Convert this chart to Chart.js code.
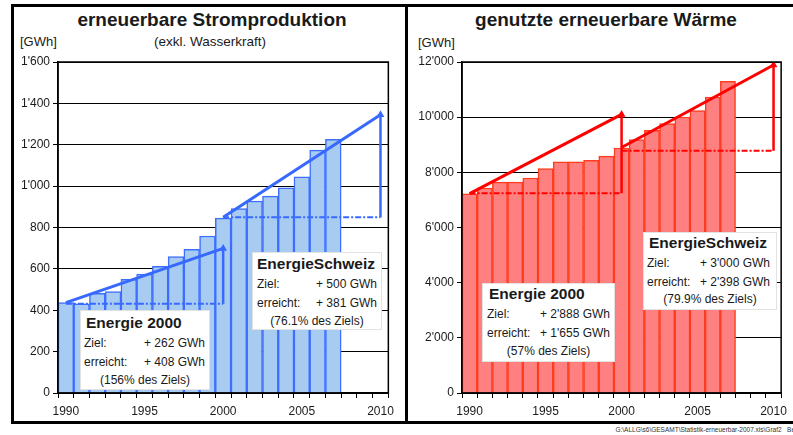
<!DOCTYPE html>
<html>
<head>
<meta charset="utf-8">
<script src="https://cdn.jsdelivr.net/npm/chart.js@4.4.0/dist/chart.umd.min.js"></script>
<style>
  html, body { margin:0; padding:0; background:#fff; }
  body { width:793px; height:435px; position:relative; overflow:hidden; font-family:"Liberation Sans", Arial, sans-serif; color:#1a1a1a; }
  .abs { position:absolute; }
  #frame { left:11px; top:4px; width:800px; height:420px; border:3px solid #000; box-sizing:border-box; }
  #divider { left:405px; top:4px; width:3px; height:420px; background:#000; }
  .title { font-weight:bold; font-size:19px; white-space:nowrap; transform:translateX(-50%); line-height:22px; }
  .sub { font-size:13.5px; white-space:nowrap; transform:translateX(-50%); line-height:16px; }
  .unit { font-size:13px; line-height:16px; white-space:nowrap; }
  canvas { position:absolute; }
  .box { position:absolute; background:#fff; border:1px solid #e2e2e2; box-sizing:border-box; }
  .box div { position:absolute; white-space:nowrap; }
  .bt { font-weight:bold; font-size:15.5px; line-height:18px; }
  .row { font-size:12px; line-height:14px; }
  .val { text-align:right; }
  .cen { left:0; right:0; text-align:center; }
  #footer { right:-2px; top:425px; font-size:6.5px; line-height:9px; white-space:nowrap; color:#333; }
</style>
</head>
<body>
<div id="frame" class="abs"></div>
<div id="divider" class="abs"></div>

<div class="abs title" style="left:212px; top:9px;">erneuerbare Stromproduktion</div>
<div class="abs sub" style="left:210px; top:34px;">(exkl. Wasserkraft)</div>
<div class="abs unit" style="left:20px; top:34px;">[GWh]</div>

<div class="abs title" style="left:606px; top:9px;">genutzte erneuerbare Wärme</div>
<div class="abs unit" style="left:418px; top:35px;">[GWh]</div>

<canvas id="c1" width="386" height="372" style="left:14px; top:48px; width:386px; height:372px;"></canvas>
<canvas id="c2" width="383" height="372" style="left:410px; top:48px; width:383px; height:372px;"></canvas>

<div class="box" style="left:80px; top:310px; width:130px; height:80px;">
  <div class="bt" style="left:5px; top:3px;">Energie 2000</div>
  <div class="row" style="left:3px; top:25px;">Ziel:</div>
  <div class="row val" style="right:4px; top:25px;">+ 262 GWh</div>
  <div class="row" style="left:3px; top:44px;">erreicht:</div>
  <div class="row val" style="right:4px; top:44px;">+ 408 GWh</div>
  <div class="row cen" style="top:62px;">(156% des Ziels)</div>
</div>

<div class="box" style="left:252px; top:252px; width:130px; height:78px;">
  <div class="bt" style="left:4px; top:2px;">EnergieSchweiz</div>
  <div class="row" style="left:4px; top:24px;">Ziel:</div>
  <div class="row val" style="right:4px; top:24px;">+ 500 GWh</div>
  <div class="row" style="left:4px; top:43px;">erreicht:</div>
  <div class="row val" style="right:4px; top:43px;">+ 381 GWh</div>
  <div class="row cen" style="top:61px;">(76.1% des Ziels)</div>
</div>

<div class="box" style="left:482px; top:283px; width:133px; height:79px;">
  <div class="bt" style="left:6px; top:1px;">Energie 2000</div>
  <div class="row" style="left:4px; top:23px;">Ziel:</div>
  <div class="row val" style="right:4px; top:23px;">+ 2'888 GWh</div>
  <div class="row" style="left:4px; top:42px;">erreicht:</div>
  <div class="row val" style="right:4px; top:42px;">+ 1'655 GWh</div>
  <div class="row cen" style="top:60px;">(57% des Ziels)</div>
</div>

<div class="box" style="left:643px; top:232px; width:134px; height:78px;">
  <div class="bt" style="left:5px; top:1px;">EnergieSchweiz</div>
  <div class="row" style="left:3px; top:23px;">Ziel:</div>
  <div class="row val" style="right:6px; top:23px;">+ 3'000 GWh</div>
  <div class="row" style="left:3px; top:42px;">erreicht:</div>
  <div class="row val" style="right:6px; top:42px;">+ 2'398 GWh</div>
  <div class="row cen" style="top:59px;">(79.9% des Ziels)</div>
</div>

<div id="footer" class="abs">G:\ALLG\s6\GESAMT\Statistik-erneuerbar-2007.xls\Graf2&nbsp;&nbsp;&nbsp;Be</div>

<script>
// ---- categories ----
const years = ['1990','1991','1992','1993','1994','1995','1996','1997','1998','1999','2000',
               '2001','2002','2003','2004','2005','2006','2007','2008','2009','2010'];

// ---- left: erneuerbare Stromproduktion (GWh), 1990..2007 ----
const stromProduktion = [437, 431, 482, 490, 550, 575, 612, 660, 695, 759, 845,
                         892, 928, 952, 992, 1045, 1174, 1226];
const stromE2000Ziel   = [437, 699];    // 1990 -> 2000 target line
const stromE2000Basis  = [432, 432];    // dotted baseline 1990 -> 2000
const stromESZiel      = [850, 1345];   // 2000 -> 2010 target line
const stromESBasis     = [850, 850];    // dotted baseline 2000 -> 2010
const stromTicks       = [0, 1600, 200];

// ---- right: genutzte erneuerbare Wärme (GWh), 1990..2007 ----
const waermeProduktion = [7220, 7432, 7645, 7645, 7795, 8135, 8380, 8380, 8434, 8585, 8883,
                          9184, 9522, 9764, 10007, 10236, 10732, 11300];
const waermeE2000Ziel  = [7226, 10100];
const waermeE2000Basis = [7240, 7240];
const waermeESZiel     = [8900, 11890];
const waermeESBasis    = [8780, 8780];
const waermeTicks      = [0, 12000, 2000];

const FONT = "'Liberation Sans', Arial, sans-serif";
const fmt = v => {
  const s = String(Math.round(v));
  return s.replace(/\B(?=(\d{3})+(?!\d))/g, "'");
};

const frameBox = {
  id: 'frameBox',
  afterDraw(chart) {
    const a = chart.chartArea, ctx = chart.ctx;
    ctx.save();
    ctx.strokeStyle = '#000';
    ctx.lineWidth = 1.5;
    ctx.strokeRect(a.left, a.top, a.right - a.left, a.bottom - a.top);
    ctx.restore();
  }
};

function lineSet(from, to, vals, color, width, dash, arrow) {
  return {
    type: 'line',
    data: [{x: from, y: vals[0]}, {x: to, y: vals[1]}],
    borderColor: color,
    backgroundColor: color,
    borderWidth: width,
    borderDash: dash || [],
    pointRadius: arrow ? [0, 4.5] : 0,
    pointStyle: 'triangle',
    pointBackgroundColor: color,
    pointBorderWidth: 0,
    fill: false,
    tension: 0,
    order: 0
  };
}

function makeChart(id, values, e2Ziel, e2Basis, esZiel, esBasis, ticks, fill, edge, lineColor, yWidth, pad) {
  const dash = [6, 2, 2, 2];
  return new Chart(document.getElementById(id), {
    data: {
      labels: years,
      datasets: [
        lineSet('1990', '2000', e2Ziel, lineColor, 3),
        lineSet('1990', '2000', e2Basis, lineColor, 2, dash),
        lineSet('2000', '2000', [e2Basis[1], e2Ziel[1]], lineColor, 2.5, null, true),
        lineSet('2000', '2010', esZiel, lineColor, 3),
        lineSet('2000', '2010', esBasis, lineColor, 2, dash),
        lineSet('2010', '2010', [esBasis[1], esZiel[1]], lineColor, 2.5, null, true),
        {
          type: 'bar',
          data: values,
          backgroundColor: fill,
          borderColor: edge,
          borderWidth: 1.5,
          barPercentage: 1,
          categoryPercentage: 1,
          order: 10
        }
      ]
    },
    options: {
      responsive: false,
      animation: false,
      devicePixelRatio: 1,
      layout: { padding: pad },
      plugins: { legend: { display: false }, tooltip: { enabled: false } },
      scales: {
        x: {
          type: 'category',
          offset: true,
          grid: { display: true, drawOnChartArea: false, offset: true, color: '#000', lineWidth: 1, tickLength: 5 },
          border: { display: true, color: '#000', width: 1.5 },
          ticks: {
            autoSkip: false, maxRotation: 0, minRotation: 0, padding: 6,
            color: '#1a1a1a', font: { family: FONT, size: 12 },
            callback: (v, i) => (Number(years[i]) % 5 === 0 ? years[i] : '')
          },
          afterFit: s => { s.height = 27; }
        },
        y: {
          min: ticks[0], max: ticks[1],
          grid: { color: '#000', lineWidth: 1, tickLength: 5 },
          border: { display: true, color: '#000', width: 1.5 },
          ticks: {
            stepSize: ticks[2], padding: 3,
            color: '#1a1a1a', font: { family: FONT, size: 12 },
            callback: v => fmt(v)
          },
          afterFit: s => { s.width = yWidth; }
        }
      }
    },
    plugins: [frameBox]
  });
}

makeChart('c1', stromProduktion, stromE2000Ziel, stromE2000Basis, stromESZiel, stromESBasis, stromTicks,
          'rgb(168,203,242)', 'rgb(60,110,255)', 'rgb(55,105,255)', 44,
          { left: 0, right: 7, top: 14, bottom: 0 });
makeChart('c2', waermeProduktion, waermeE2000Ziel, waermeE2000Basis, waermeESZiel, waermeESBasis, waermeTicks,
          'rgb(255,128,128)', 'rgb(255,60,30)', 'rgb(255,0,0)', 52,
          { left: 0, right: 3, top: 14, bottom: 0 });
</script>
</body>
</html>
